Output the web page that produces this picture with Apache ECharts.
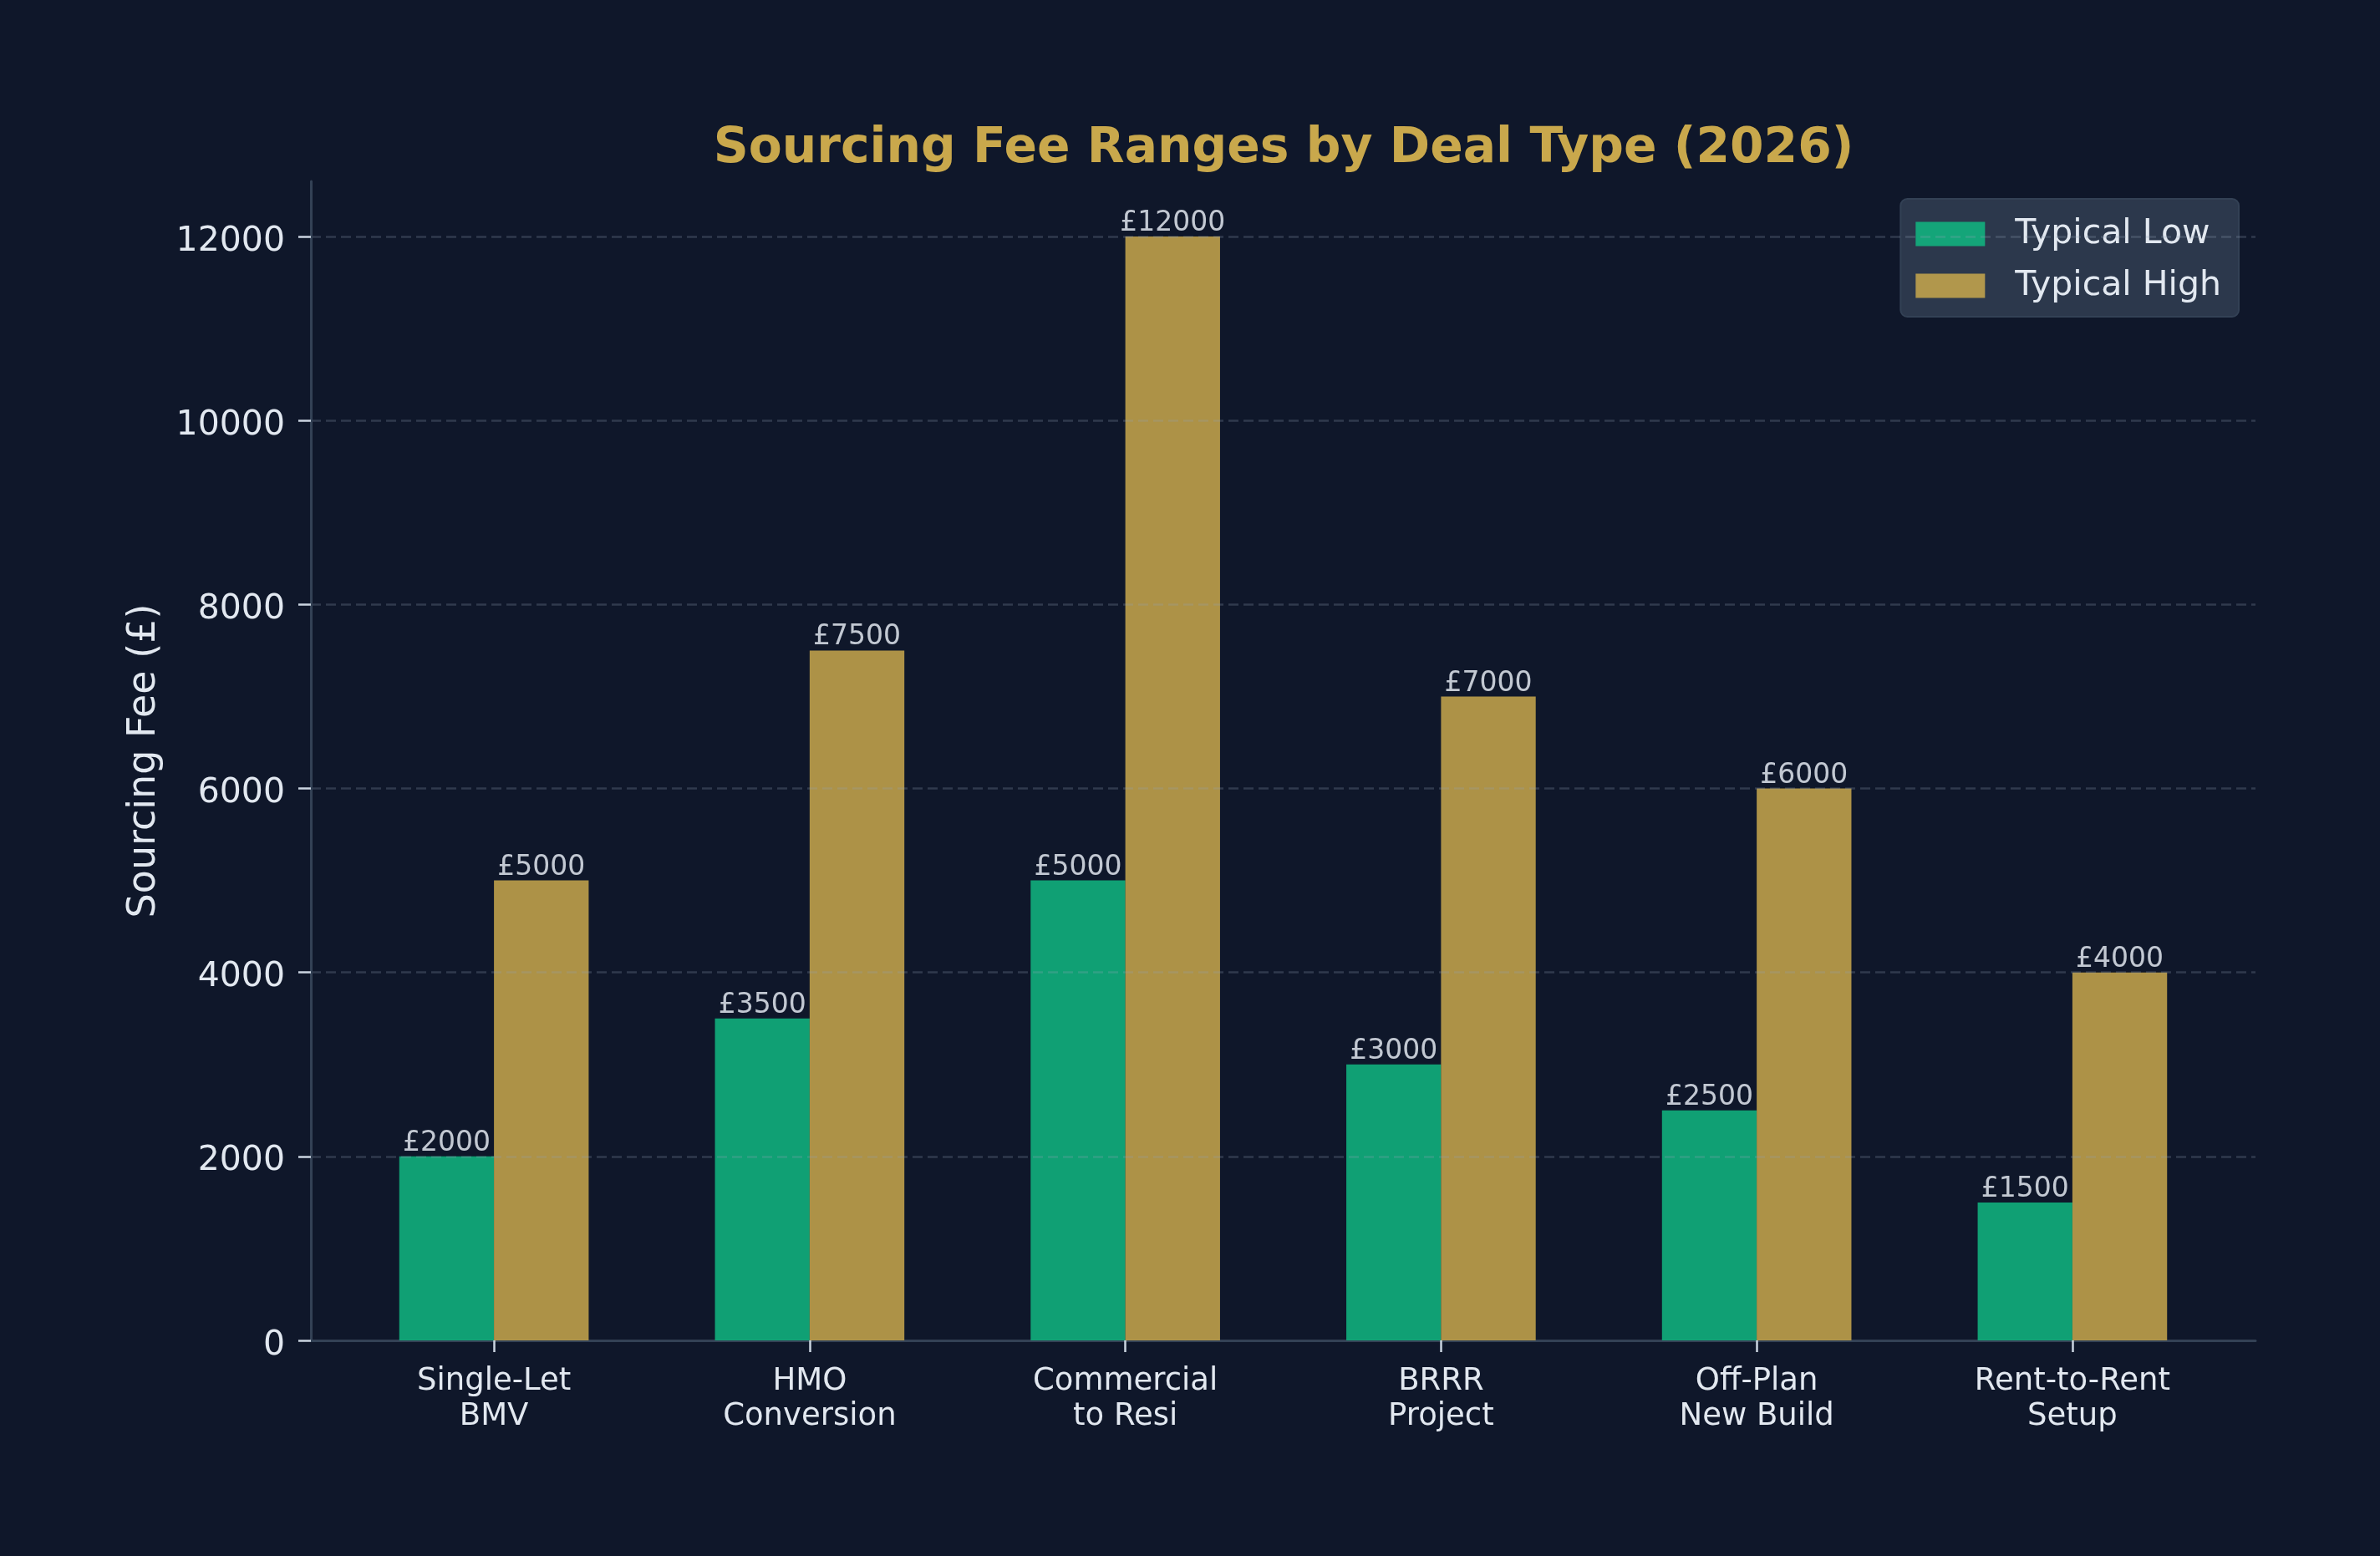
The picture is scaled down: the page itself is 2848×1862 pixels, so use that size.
<!DOCTYPE html>
<html>
<head>
<meta charset="utf-8">
<script src="https://cdn.jsdelivr.net/npm/echarts@6/dist/echarts.min.js"></script>
<style>
	html, body { margin: 0; padding: 0; background: #0f172a; }
	#chart { width: 2848px; height: 1862px; }
</style>
</head>
<body>
<div id="chart"></div>
<script>
// deal types (x axis)
var categories = [ 'Single-Let\nBMV', 'HMO\nConversion', 'Commercial\nto Resi', 'BRRR\nProject', 'Off-Plan\nNew Build', 'Rent-to-Rent\nSetup' ];
var lowFees = [ 2000, 3500, 5000, 3000, 2500, 1500 ];
var highFees = [ 5000, 7500, 12000, 7000, 6000, 4000 ];
var yTicks = [ 0, 2000, 4000, 6000, 8000, 10000, 12000 ];

var textColor = '#e2e8f0';
var fontFamily = 'DejaVu Sans';

function toPoints(values) {
	var pts = [];
	for (var i = 0; i < values.length; i++) {
		pts.push([ i, values[i] ]);
	}
	return pts;
}

var catIndex = [];
for (var i = 0; i < categories.length; i++) {
	catIndex.push(i);
}

function valueLabel() {
	return {
		show : true,
		position : 'top',
		distance : -1,
		color : textColor,
		fontFamily : fontFamily,
		fontSize : 33,
		formatter : function(p) {
			return '£' + p.value[1];
		}
	};
}

var myChart = echarts.init(document.getElementById('chart'));
var option = {
	backgroundColor : '#0f172a',
	animation : false,
	title : {
		text : 'Sourcing Fee Ranges by Deal Type (2026)',
		left : 1531,
		top : 145,
		textAlign : 'center',
		textStyle : {
			color : '#c9a84c',
			fontFamily : fontFamily,
			fontWeight : 'bold',
			fontSize : 58.3
		}
	},
	legend : {
		orient : 'vertical',
		right : 169,
		top : 238,
		align : 'left',
		icon : 'rect',
		itemWidth : 83,
		itemHeight : 29,
		itemGap : 20,
		padding : [ 21, 21, 16, 18 ],
		backgroundColor : 'rgba(51,65,85,0.8)',
		borderColor : '#334155',
		borderWidth : 2,
		borderRadius : 8,
		textStyle : {
			color : textColor,
			fontFamily : fontFamily,
			fontSize : 41,
			lineHeight : 42,
			padding : [ 0, 0, 0, 31 ]
		},
		data : [ 'Typical Low', 'Typical High' ]
	},
	grid : {
		left : 372,
		right : 149,
		top : 217,
		bottom : 258
	},
	xAxis : {
		type : 'value',
		min : -0.58,
		max : 5.58,
		splitLine : { show : false },
		axisLine : {
			show : true,
			onZero : false,
			lineStyle : { color : '#334155', width : 3 }
		},
		axisTick : {
			show : true,
			length : 14,
			customValues : catIndex,
			lineStyle : { color : '#cbd5e1', width : 2.5 }
		},
		axisLabel : {
			customValues : catIndex,
			margin : 28,
			color : textColor,
			fontFamily : fontFamily,
			fontSize : 37,
			lineHeight : 42,
			formatter : function(v) {
				return categories[Math.round(v)];
			}
		}
	},
	yAxis : {
		type : 'value',
		min : 0,
		max : 12600,
		z : 5,
		name : 'Sourcing Fee (£)',
		nameLocation : 'middle',
		nameGap : 176,
		nameTextStyle : {
			color : textColor,
			fontFamily : fontFamily,
			fontSize : 46
		},
		axisLine : {
			show : true,
			onZero : false,
			lineStyle : { color : '#334155', width : 3 }
		},
		axisTick : {
			show : true,
			length : 15,
			customValues : yTicks,
			lineStyle : { color : '#cbd5e1', width : 2.5 }
		},
		axisLabel : {
			customValues : yTicks,
			margin : 31,
			color : textColor,
			fontFamily : fontFamily,
			fontSize : 41,
			formatter : function(v) {
				return '{t|' + v + '}';
			},
			rich : {
				t : {
					color : textColor,
					fontFamily : fontFamily,
					fontSize : 41,
					padding : [ 12, 0, 0, 0 ]
				}
			}
		},
		splitLine : {
			show : true,
			showMinLine : false,
			showMaxLine : true,
			lineStyle : {
				color : 'rgba(148,163,184,0.25)',
				width : 2.5,
				type : [ 12, 6 ]
			}
		}
	},
	series : [ {
		name : 'Typical Low',
		type : 'bar',
		barWidth : '30%',
		barGap : '0%',
		itemStyle : { color : '#10b981', opacity : 0.85 },
		label : valueLabel(),
		data : toPoints(lowFees)
	}, {
		name : 'Typical High',
		type : 'bar',
		barWidth : '30%',
		barGap : '0%',
		itemStyle : { color : '#c9a84c', opacity : 0.85 },
		label : valueLabel(),
		data : toPoints(highFees)
	} ]
};
myChart.setOption(option);
</script>
</body>
</html>
